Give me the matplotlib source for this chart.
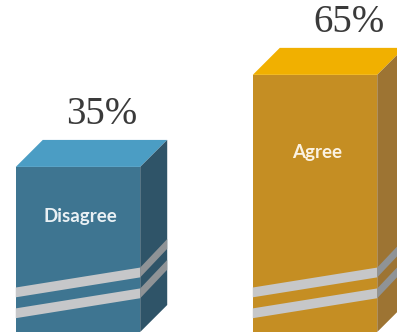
import matplotlib.pyplot as plt
from matplotlib.patches import Polygon

# Survey response shares
categories = ["Disagree", "Agree"]
values = [35, 65]
value_labels = ["35%", "65%"]

front_colors = ["#3e7591", "#c58e23"]
top_colors = ["#4b9dc4", "#f1b000"]
side_colors = ["#2f5468", "#9d7433"]
label_colors = ["#e9f0f4", "#fbf2e2"]
stripe_front = "#c6c7c9"
stripe_side = "#8f9396"

base = -18.8          # bottom of every box
width = 0.525         # front face width
depth_x = 0.114       # oblique depth, x units
depth_y = 8.8         # oblique depth, y units
stripe_starts = [-7.5, -14.3]
stripe_thick = 3.2
stripe_rise_front = 6.5
stripe_rise_side = 9.3
pct_shift = [0.10, 0.145]   # horizontal nudge of the percentage labels

fig = plt.figure(figsize=(3.97, 3.32), dpi=100)
ax = fig.add_axes([0, 0, 1, 1])
ax.set_xlim(-0.329, 1.346)
ax.set_ylim(base, 89.4)
ax.axis("off")

xs = list(range(len(categories)))
bars = ax.bar(xs, [v - base for v in values], bottom=base, width=width,
              color=front_colors, edgecolor="none", zorder=2)

for i, (bar, v) in enumerate(zip(bars, values)):
    xl = bar.get_x()
    xr = xl + bar.get_width()
    # top face
    ax.add_patch(Polygon([(xl, v), (xl + depth_x, v + depth_y),
                          (xr + depth_x, v + depth_y), (xr, v)],
                         closed=True, facecolor=top_colors[i],
                         edgecolor="none", zorder=2))
    # side face
    ax.add_patch(Polygon([(xr, base), (xr + depth_x, base + depth_y),
                          (xr + depth_x, v + depth_y), (xr, v)],
                         closed=True, facecolor=side_colors[i],
                         edgecolor="none", zorder=2))
    # decorative stripes wrapping the front and side faces
    for s in stripe_starts:
        yr = s + stripe_rise_front
        ax.add_patch(Polygon([(xl, s), (xr, yr), (xr, yr + stripe_thick),
                              (xl, s + stripe_thick)],
                             closed=True, facecolor=stripe_front,
                             edgecolor="none", zorder=3))
        ys = yr + stripe_rise_side
        ax.add_patch(Polygon([(xr, yr), (xr + depth_x, ys),
                              (xr + depth_x, ys + stripe_thick),
                              (xr, yr + stripe_thick)],
                             closed=True, facecolor=stripe_side,
                             edgecolor="none", zorder=3))
    # percentage above the box
    ax.text(xs[i] + pct_shift[i], v + 17, value_labels[i], ha="center",
            va="center", fontsize=28, family="Liberation Serif",
            color="#3a3a3a")
    # category name on the front face
    ax.text(xs[i] + 0.01, v - 0.3 * (v - base), categories[i],
            ha="center", va="center", fontsize=13.5, family="Lato",
            fontweight="bold", color=label_colors[i], zorder=4)

fig.savefig("out.png", dpi=100)
